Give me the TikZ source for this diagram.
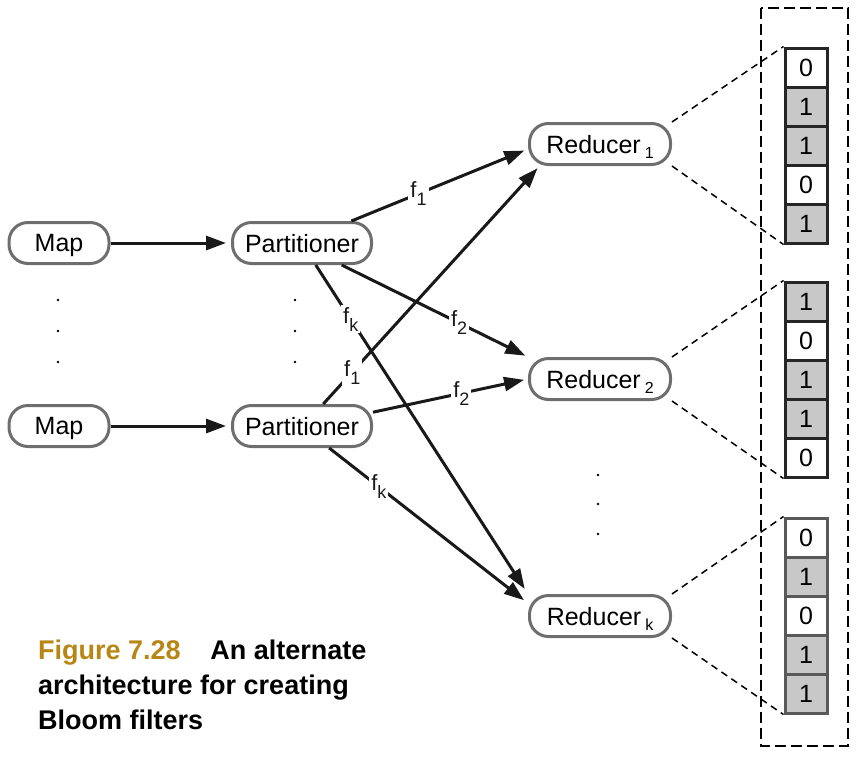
\documentclass[tikz,border=0pt]{standalone}
\usepackage{fontspec}
\setmainfont{Liberation Sans}
\usetikzlibrary{arrows.meta}
\definecolor{boxgray}{RGB}{110,110,110}
\definecolor{cellgray}{RGB}{200,200,200}
\definecolor{figgold}{RGB}{184,134,20}
\colorlet{cell0}{white}
\colorlet{cell1}{cellgray}
\newcommand{\redsub}[1]{\hspace{4pt}\raisebox{-5pt}{\fontsize{16}{16}\selectfont #1}}
\newcommand{\fsub}[1]{f\raisebox{-8pt}{\fontsize{18}{18}\selectfont #1}}
\tikzset{
  proc/.style={draw=boxgray, line width=3pt, rounded corners=19pt,
    minimum height=41pt, inner sep=0pt, text depth=0pt,
    font=\fontsize{25}{30}\selectfont},
  arr/.style={-{Triangle[length=20pt,width=14pt]}, line width=3pt, black!90},
  lbl/.style={fill=white, inner sep=2pt, font=\fontsize{22}{26}\selectfont},
  link/.style={line width=1.5pt, dash pattern=on 7pt off 5pt},
  cellbox/.style={draw, minimum width=42pt, minimum height=39pt,
    line width=3pt, inner sep=0pt, font=\fontsize{25}{30}\selectfont},
}
\begin{document}
\begin{tikzpicture}[x=1pt,y=-1pt]
  \useasboundingbox (0,0) rectangle (860,758);
  \draw[draw=none]
    (59,243) node[proc,minimum width=100pt] (m1){Map}
    (59,426) node[proc,minimum width=100pt] (m2){Map}
    (302,243) node[proc,minimum width=139pt] (p1){Partitioner}
    (302,426) node[proc,minimum width=139pt] (p2){Partitioner}
    (600,144) node[proc,minimum width=141pt] (r1){Reducer\redsub{1}}
    (600,379) node[proc,minimum width=141pt] (r2){Reducer\redsub{2}}
    (600,616) node[proc,minimum width=141pt] (rk){Reducer\redsub{k}};
  % dots between the rows
  \foreach \y in {300,331,362} {
    \fill (58,\y) circle (1.3);
    \fill (295,\y) circle (1.3);
  }
  \foreach \y in {475,504,534}
    \fill (598,\y) circle (1.3);
  % map to partitioner
  \draw[arr, shorten >=5pt] (m1) -- (p1);
  \draw[arr, shorten >=5pt] (m2) -- (p2);
  % partitioner to reducers
  \begin{scope}[arr]
    \draw[shorten >=4pt] (p1.24) -- node[lbl,pos=0.38] {\fsub{1}} (r1.184);
    \draw[shorten >=3pt] (p1.331) -- node[lbl,pos=0.63] {\fsub{2}} (r2.163);
    \draw[shorten >=6pt] (p1.302) -- node[lbl,pos=0.165] {\fsub{k}} (rk.north west);
    \draw[shorten >=3pt] (p2.46) -- node[lbl,pos=0.134] {\fsub{1}} (r1.200);
    \draw[shorten >=4pt] (p2.11) -- node[lbl,pos=0.57] {\fsub{2}} (r2.west);
    \draw[shorten >=5pt] (p2.321) -- node[lbl,pos=0.25] {\fsub{k}} (rk.170);
  \end{scope}
  % bloom filters
  \draw[line width=2.5pt, dash pattern=on 11pt off 5pt] (761,8) rectangle (848,746);
  \foreach \col/\top/\vals/\edge in {a/48/{0,1,1,0,1}/black!85,
      b/282/{1,0,1,1,0}/black!85, c/518/{0,1,0,1,1}/black!65} {
    \foreach \v [count=\i] in \vals
      \node[cellbox, draw=\edge, fill=cell\v] (\col\i) at (806,\top+19.5+39*\i-39) {\v};
  }
  \draw[link] (r1.17) -- (a1.north west);
  \draw[link] (r1.343) -- (a5.south west);
  \draw[link] (r2.17) -- (b1.north west);
  \draw[link] (r2.343) -- (b5.south west);
  \draw[link] (rk.17) -- (c1.north west);
  \draw[link] (rk.343) -- (c5.south west);
  % caption
  \node[anchor=north west, align=left, inner sep=0pt,
    font=\bfseries\fontsize{27}{35}\selectfont] (cap) at (38,640)
    {\textcolor{figgold}{Figure 7.28}\hspace{1.1em}An alternate\\
     architecture for creating\\Bloom filters};
\end{tikzpicture}
\end{document}
